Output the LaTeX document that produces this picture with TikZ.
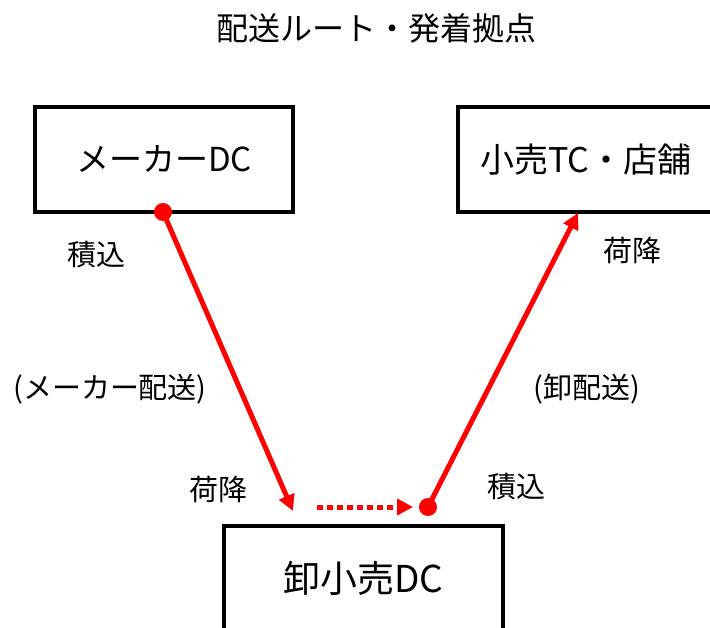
\documentclass[tikz,border=0pt]{standalone}
\usepackage{fontspec}
\setmainfont{Noto Sans CJK JP}
\usetikzlibrary{arrows.meta}
\begin{document}
\begin{tikzpicture}[x=1pt,y=-1pt,
  box/.style={draw=black,line width=4pt,rectangle,minimum height=105pt,inner sep=0pt,font=\fontsize{34}{40}\selectfont},
  lbl/.style={inner sep=0pt,font=\fontsize{29}{34}\selectfont},
  ttl/.style={inner sep=0pt,font=\fontsize{32}{38}\selectfont},
  redline/.style={draw=red,line width=5pt},
  tip/.style={-{Triangle[length=16pt,width=16pt]}},
  reddot/.style={fill=red}
]
\useasboundingbox (0,0) rectangle (710,628);
\clip (0,0) rectangle (710,628);

\node[ttl] (title) at (376,28) {配送ルート・発着拠点};

\node[box,minimum width=258pt,font=\fontsize{33}{38}\selectfont] (b1) at (164,159.5) {メーカーDC};
\node[box,minimum width=256pt] (b2) at (586,159.5) {小売TC・店舗};
\node[box,minimum width=279pt,font=\fontsize{37}{42}\selectfont] (b3) at (363.5,578.5) {卸小売DC};

\coordinate (s1) at (163,212);
\coordinate (t1) at (293,511);
\coordinate (s2) at (428,507);
\coordinate (t2) at (578,213);
\coordinate (d1) at (317,507);
\coordinate (d2) at (413,507);

\draw[redline,tip] (s1) -- (t1);
\draw[redline,tip] (s2) -- (t2);
\draw[redline,dash pattern=on 6pt off 4pt,tip] (d1) -- (d2);
\fill[reddot] (s1) circle (9pt);
\fill[reddot] (s2) circle (9pt);

\node[lbl] (l1) at (96,255) {積込};
\node[lbl] (l2) at (632,250) {荷降};
\node[lbl] (l3) at (110,389) {(メーカー配送)};
\node[lbl] (l4) at (587,389) {(卸配送)};
\node[lbl] (l5) at (218,489) {荷降};
\node[lbl] (l6) at (516,487) {積込};
\end{tikzpicture}
\end{document}
